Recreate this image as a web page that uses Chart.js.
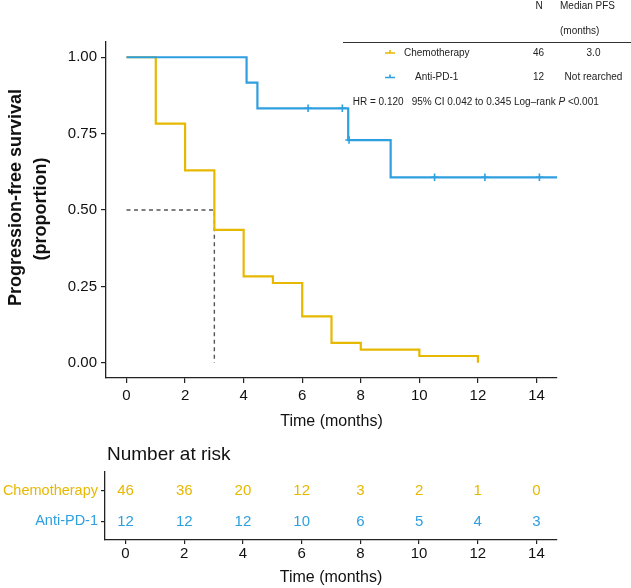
<!DOCTYPE html>
<html>
<head>
<meta charset="utf-8">
<script src="https://cdn.jsdelivr.net/npm/chart.js@4.4.1/dist/chart.umd.min.js"></script>
<style>
  body { margin: 0; background: #fff; }
  #wrap { position: relative; width: 631px; height: 588px; }
  canvas { position: absolute; left: 0; }
</style>
</head>
<body>
<div id="wrap">
  <canvas id="km" width="631" height="440" style="top:0"></canvas>
  <canvas id="risk" width="631" height="148" style="top:440px"></canvas>
</div>
<script>
const FONT = '"Liberation Sans", Arial, sans-serif';
const YELLOW = '#E7B800';
const BLUE = '#2E9FDF';

// data
const groups = ['Chemotherapy', 'Anti-PD-1'];
const groupN = [46, 12];
const groupMedian = ['3.0', 'Not rearched'];
const chemoTime = [0, 1, 2, 3, 4, 5, 6, 7, 8, 10, 12];
const chemoSurv = [1, 0.783, 0.630, 0.435, 0.283, 0.261, 0.152, 0.065, 0.043, 0.022, 0];
const pd1Time = [0, 4.1, 4.47, 7.57, 9.02, 14.7];
const pd1Surv = [1, 0.917, 0.833, 0.729, 0.607, 0.607];
const pd1CensorTime = [6.2, 7.37, 7.6, 10.52, 12.24, 14.1];
const pd1CensorSurv = [0.833, 0.833, 0.729, 0.607, 0.607, 0.607];
const medianTime = [0, 3, 3];
const medianSurv = [0.5, 0.5, 0];
const xTicks = [0, 2, 4, 6, 8, 10, 12, 14];
const yTicks = [0, 0.25, 0.5, 0.75, 1];
const riskChemo = [46, 36, 20, 12, 3, 2, 1, 0];
const riskPd1 = [12, 12, 12, 10, 6, 5, 4, 3];

const zip = (xs, ys) => xs.map((x, i) => ({ x, y: ys[i] }));
const fixTicks = values => scale => { scale.ticks = values.map(v => ({ value: v })); };

const axisGrid = { display: true, drawOnChartArea: false, drawTicks: true, tickLength: 5, color: '#222', lineWidth: 1.2 };
const axisBorder = { display: true, color: '#222', width: 1.3 };

const kmText = {
  id: 'kmText',
  afterDraw(chart) {
    const ctx = chart.ctx;
    ctx.save();
    ctx.fillStyle = '#111';
    ctx.textBaseline = 'middle';

    // y title, two lines
    ctx.font = 'bold 18px ' + FONT;
    ctx.textAlign = 'center';
    [['Progression-free survival', 16.5, 197.5], ['(proportion)', 41, 209]].forEach(([t, x, y]) => {
      ctx.save();
      ctx.translate(x, y);
      ctx.rotate(-Math.PI / 2);
      ctx.fillText(t, 0, 0);
      ctx.restore();
    });

    // legend table top right
    ctx.font = '10px ' + FONT;
    ctx.fillStyle = '#222';
    ctx.textAlign = 'center';
    ctx.fillText('N', 539, 6);
    ctx.textAlign = 'left';
    ctx.fillText('Median PFS', 560, 6);
    ctx.fillText('(months)', 560, 31);
    ctx.strokeStyle = '#333';
    ctx.lineWidth = 1;
    ctx.beginPath();
    ctx.moveTo(343, 42.5);
    ctx.lineTo(631, 42.5);
    ctx.stroke();

    const rows = [53, 77.5];
    const colors = [YELLOW, BLUE];
    const labelX = [404, 415];
    groups.forEach((g, i) => {
      const y = rows[i];
      ctx.strokeStyle = colors[i];
      ctx.lineWidth = 1.6;
      ctx.beginPath();
      ctx.moveTo(385, y); ctx.lineTo(395, y);
      ctx.moveTo(390, y - 3); ctx.lineTo(390, y);
      ctx.stroke();
      ctx.fillStyle = '#222';
      ctx.textAlign = 'left';
      ctx.fillText(g, labelX[i], y);
      ctx.textAlign = 'center';
      ctx.fillText(String(groupN[i]), 538.5, y);
      ctx.fillText(groupMedian[i], 593.5, y);
    });

    // HR line
    ctx.textAlign = 'left';
    let x = 352.7;
    const y = 102.5;
    ctx.fillText('HR = 0.120', x, y);
    x = 411.7;
    const part = '95% CI 0.042 to 0.345 Log\u2013rank ';
    ctx.fillText(part, x, y);
    x += ctx.measureText(part).width;
    ctx.font = 'italic 10px ' + FONT;
    ctx.fillText('P', x, y);
    x += ctx.measureText('P ').width;
    ctx.font = '10px ' + FONT;
    ctx.fillText('<0.001', x, y);
    ctx.restore();
  }
};

new Chart(document.getElementById('km'), {
  type: 'line',
  data: {
    datasets: [
      { data: zip(pd1CensorTime, pd1CensorSurv), showLine: false, pointStyle: 'cross', pointRadius: 3.8,
        pointBorderWidth: 1.6, borderColor: BLUE, backgroundColor: BLUE },
      { data: zip(pd1Time, pd1Surv), stepped: true, borderColor: BLUE, borderWidth: 2.2, pointRadius: 0 },
      { data: zip(chemoTime, chemoSurv), stepped: true, borderColor: YELLOW, borderWidth: 2.2, pointRadius: 0 },
      { data: zip(medianTime, medianSurv), borderColor: '#555', borderWidth: 1.4, borderDash: [4, 3.5], pointRadius: 0 }
    ]
  },
  options: {
    responsive: false,
    animation: false,
    devicePixelRatio: 1,
    layout: { padding: { top: 42, right: 74, left: 0, bottom: 0 } },
    plugins: { legend: { display: false }, tooltip: { enabled: false } },
    scales: {
      x: {
        type: 'linear', min: -0.7, max: 14.7,
        afterBuildTicks: fixTicks(xTicks),
        afterFit: s => { s.height = 62; },
        grid: axisGrid, border: axisBorder,
        ticks: { padding: 4, color: '#111', font: { family: FONT, size: 15 } },
        title: { display: true, text: 'Time (months)', color: '#111', font: { family: FONT, size: 16 },
                 padding: { top: 0, bottom: 9 } }
      },
      y: {
        type: 'linear', min: -0.05, max: 1.05,
        afterBuildTicks: fixTicks(yTicks),
        afterFit: s => { s.width = 106; },
        grid: axisGrid, border: axisBorder,
        ticks: { padding: 4, color: '#111', font: { family: FONT, size: 15 }, callback: v => v.toFixed(2) }
      }
    }
  },
  plugins: [kmText]
});

const riskText = {
  id: 'riskText',
  afterDraw(chart) {
    const ctx = chart.ctx;
    const xs = chart.scales.x, ys = chart.scales.y;
    ctx.save();
    ctx.fillStyle = '#111';
    ctx.font = '19px ' + FONT;
    ctx.textAlign = 'left';
    ctx.textBaseline = 'alphabetic';
    ctx.fillText('Number at risk', 107, 20);

    ctx.font = '15px ' + FONT;
    ctx.textAlign = 'center';
    ctx.textBaseline = 'middle';
    [[riskChemo, 2, YELLOW], [riskPd1, 1, BLUE]].forEach(([vals, row, col]) => {
      ctx.fillStyle = col;
      vals.forEach((v, i) => ctx.fillText(String(v), xs.getPixelForValue(xTicks[i]), ys.getPixelForValue(row)));
    });
    ctx.restore();
  }
};

new Chart(document.getElementById('risk'), {
  type: 'scatter',
  data: { datasets: [] },
  options: {
    responsive: false,
    animation: false,
    devicePixelRatio: 1,
    layout: { padding: { top: 32, right: 74, left: 0, bottom: 0 } },
    plugins: { legend: { display: false }, tooltip: { enabled: false } },
    scales: {
      x: {
        type: 'linear', min: -0.7, max: 14.7,
        afterBuildTicks: fixTicks(xTicks),
        afterFit: s => { s.height = 48; },
        grid: { ...axisGrid, tickLength: 4 }, border: axisBorder,
        ticks: { padding: 1, color: '#111', font: { family: FONT, size: 15 } },
        title: { display: true, text: 'Time (months)', color: '#111', font: { family: FONT, size: 16 },
                 padding: { top: 0, bottom: 1 } }
      },
      y: {
        type: 'linear', min: 0.4, max: 2.6,
        afterBuildTicks: fixTicks([1, 2]),
        afterFit: s => { s.width = 105; },
        grid: { ...axisGrid, tickLength: 4 }, border: axisBorder,
        ticks: {
          padding: 3, font: { family: FONT, size: 14.5 },
          color: c => (c.tick && c.tick.value === 2 ? YELLOW : BLUE),
          callback: v => (v === 2 ? groups[0] : groups[1])
        }
      }
    }
  },
  plugins: [riskText]
});
</script>
</body>
</html>
